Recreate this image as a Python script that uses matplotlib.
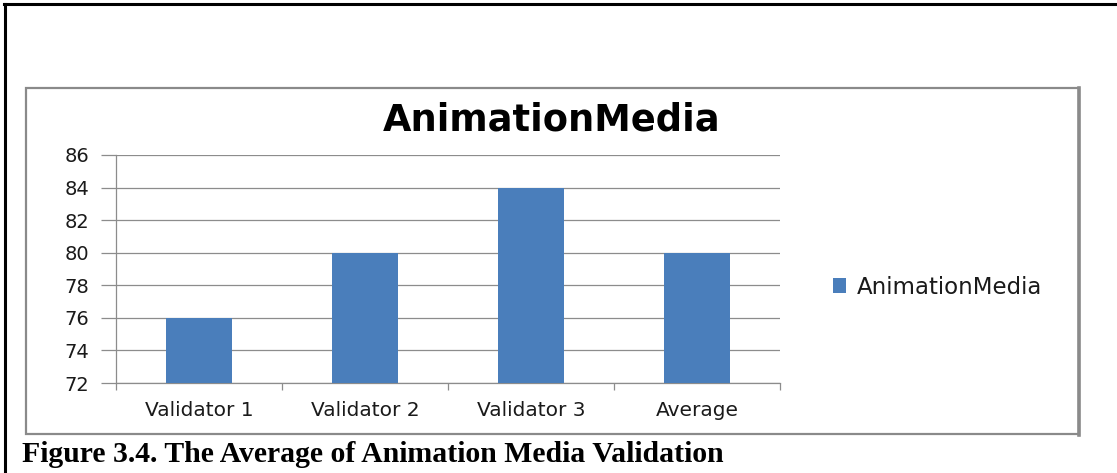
import matplotlib
matplotlib.use("Agg")
import matplotlib.pyplot as plt
from matplotlib.lines import Line2D
from matplotlib.patches import Rectangle, Patch

categories = ["Validator 1", "Validator 2", "Validator 3", "Average"]
values = [76, 80, 84, 80]
series_name = "AnimationMedia"
title = "AnimationMedia"
caption = "Figure 3.4. The Average of Animation Media Validation"
yticks = [72, 74, 76, 78, 80, 82, 84, 86]

W, H = 1117, 473
fig = plt.figure(figsize=(W / 100, H / 100), dpi=100)
fig.patch.set_facecolor("white")

def fx(x):
    return x / W

def fy(y):
    return 1 - y / H

# outer black frame (top and left)
fig.add_artist(Line2D([fx(4), fx(1117)], [fy(4.5), fy(4.5)], color="black", lw=2.2, transform=fig.transFigure))
fig.add_artist(Line2D([fx(4.5), fx(4.5)], [fy(4), fy(473)], color="black", lw=2.2, transform=fig.transFigure))

# inner chart box
fig.add_artist(Rectangle((fx(26), fy(434)), fx(1079) - fx(26), fy(88) - fy(434),
                         transform=fig.transFigure, fill=False, edgecolor="#8a8a8a", lw=1.6))
fig.add_artist(Line2D([fx(1079), fx(1079)], [fy(88), fy(435)], color="#8a8a8a", lw=2.6, transform=fig.transFigure))

ax = fig.add_axes([fx(116), fy(383), fx(780) - fx(116), fy(155) - fy(383)])
x = range(len(categories))
ax.bar(x, values, width=0.4, color="#4a7ebb", zorder=3, label=series_name)
ax.set_ylim(72, 86)
ax.set_xlim(-0.5, len(categories) - 0.5)
ax.set_yticks(yticks)
ax.set_yticklabels([str(v) for v in yticks])
ax.yaxis.grid(True, color="#8c8c8c", lw=0.9, zorder=0)
ax.set_xticks(list(x))
ax.set_xticklabels(categories)
ax.tick_params(axis="x", length=0, pad=13, labelsize=14.5, labelcolor="#1a1a1a")
ax.set_xticks([i - 0.5 for i in range(len(categories) + 1)], minor=True)
ax.tick_params(axis="x", which="minor", length=5, color="#8c8c8c", width=0.9)
ax.tick_params(axis="y", length=11, color="#8c8c8c", width=0.9, pad=8, labelsize=14, labelcolor="#1a1a1a")
for s in ["top", "right"]:
    ax.spines[s].set_visible(False)
for s in ["left", "bottom"]:
    ax.spines[s].set_color("#8c8c8c")
    ax.spines[s].set_linewidth(0.9)

fig.text(fx(552), fy(120), title, ha="center", va="center", fontsize=26.5, fontweight="bold", color="black")

leg = fig.legend(handles=[Patch(facecolor="#4a7ebb", label=series_name)], loc="center left",
                 bbox_to_anchor=(fx(812), fy(287)), frameon=False, fontsize=16.5,
                 handlelength=0.6, handleheight=0.6, handletextpad=0.45, labelcolor="#1a1a1a")

fig.text(fx(22), fy(454), caption, ha="left", va="center", fontsize=21.4, fontweight="bold",
         family="Liberation Serif", color="black")

fig.savefig("out.png", dpi=100)
